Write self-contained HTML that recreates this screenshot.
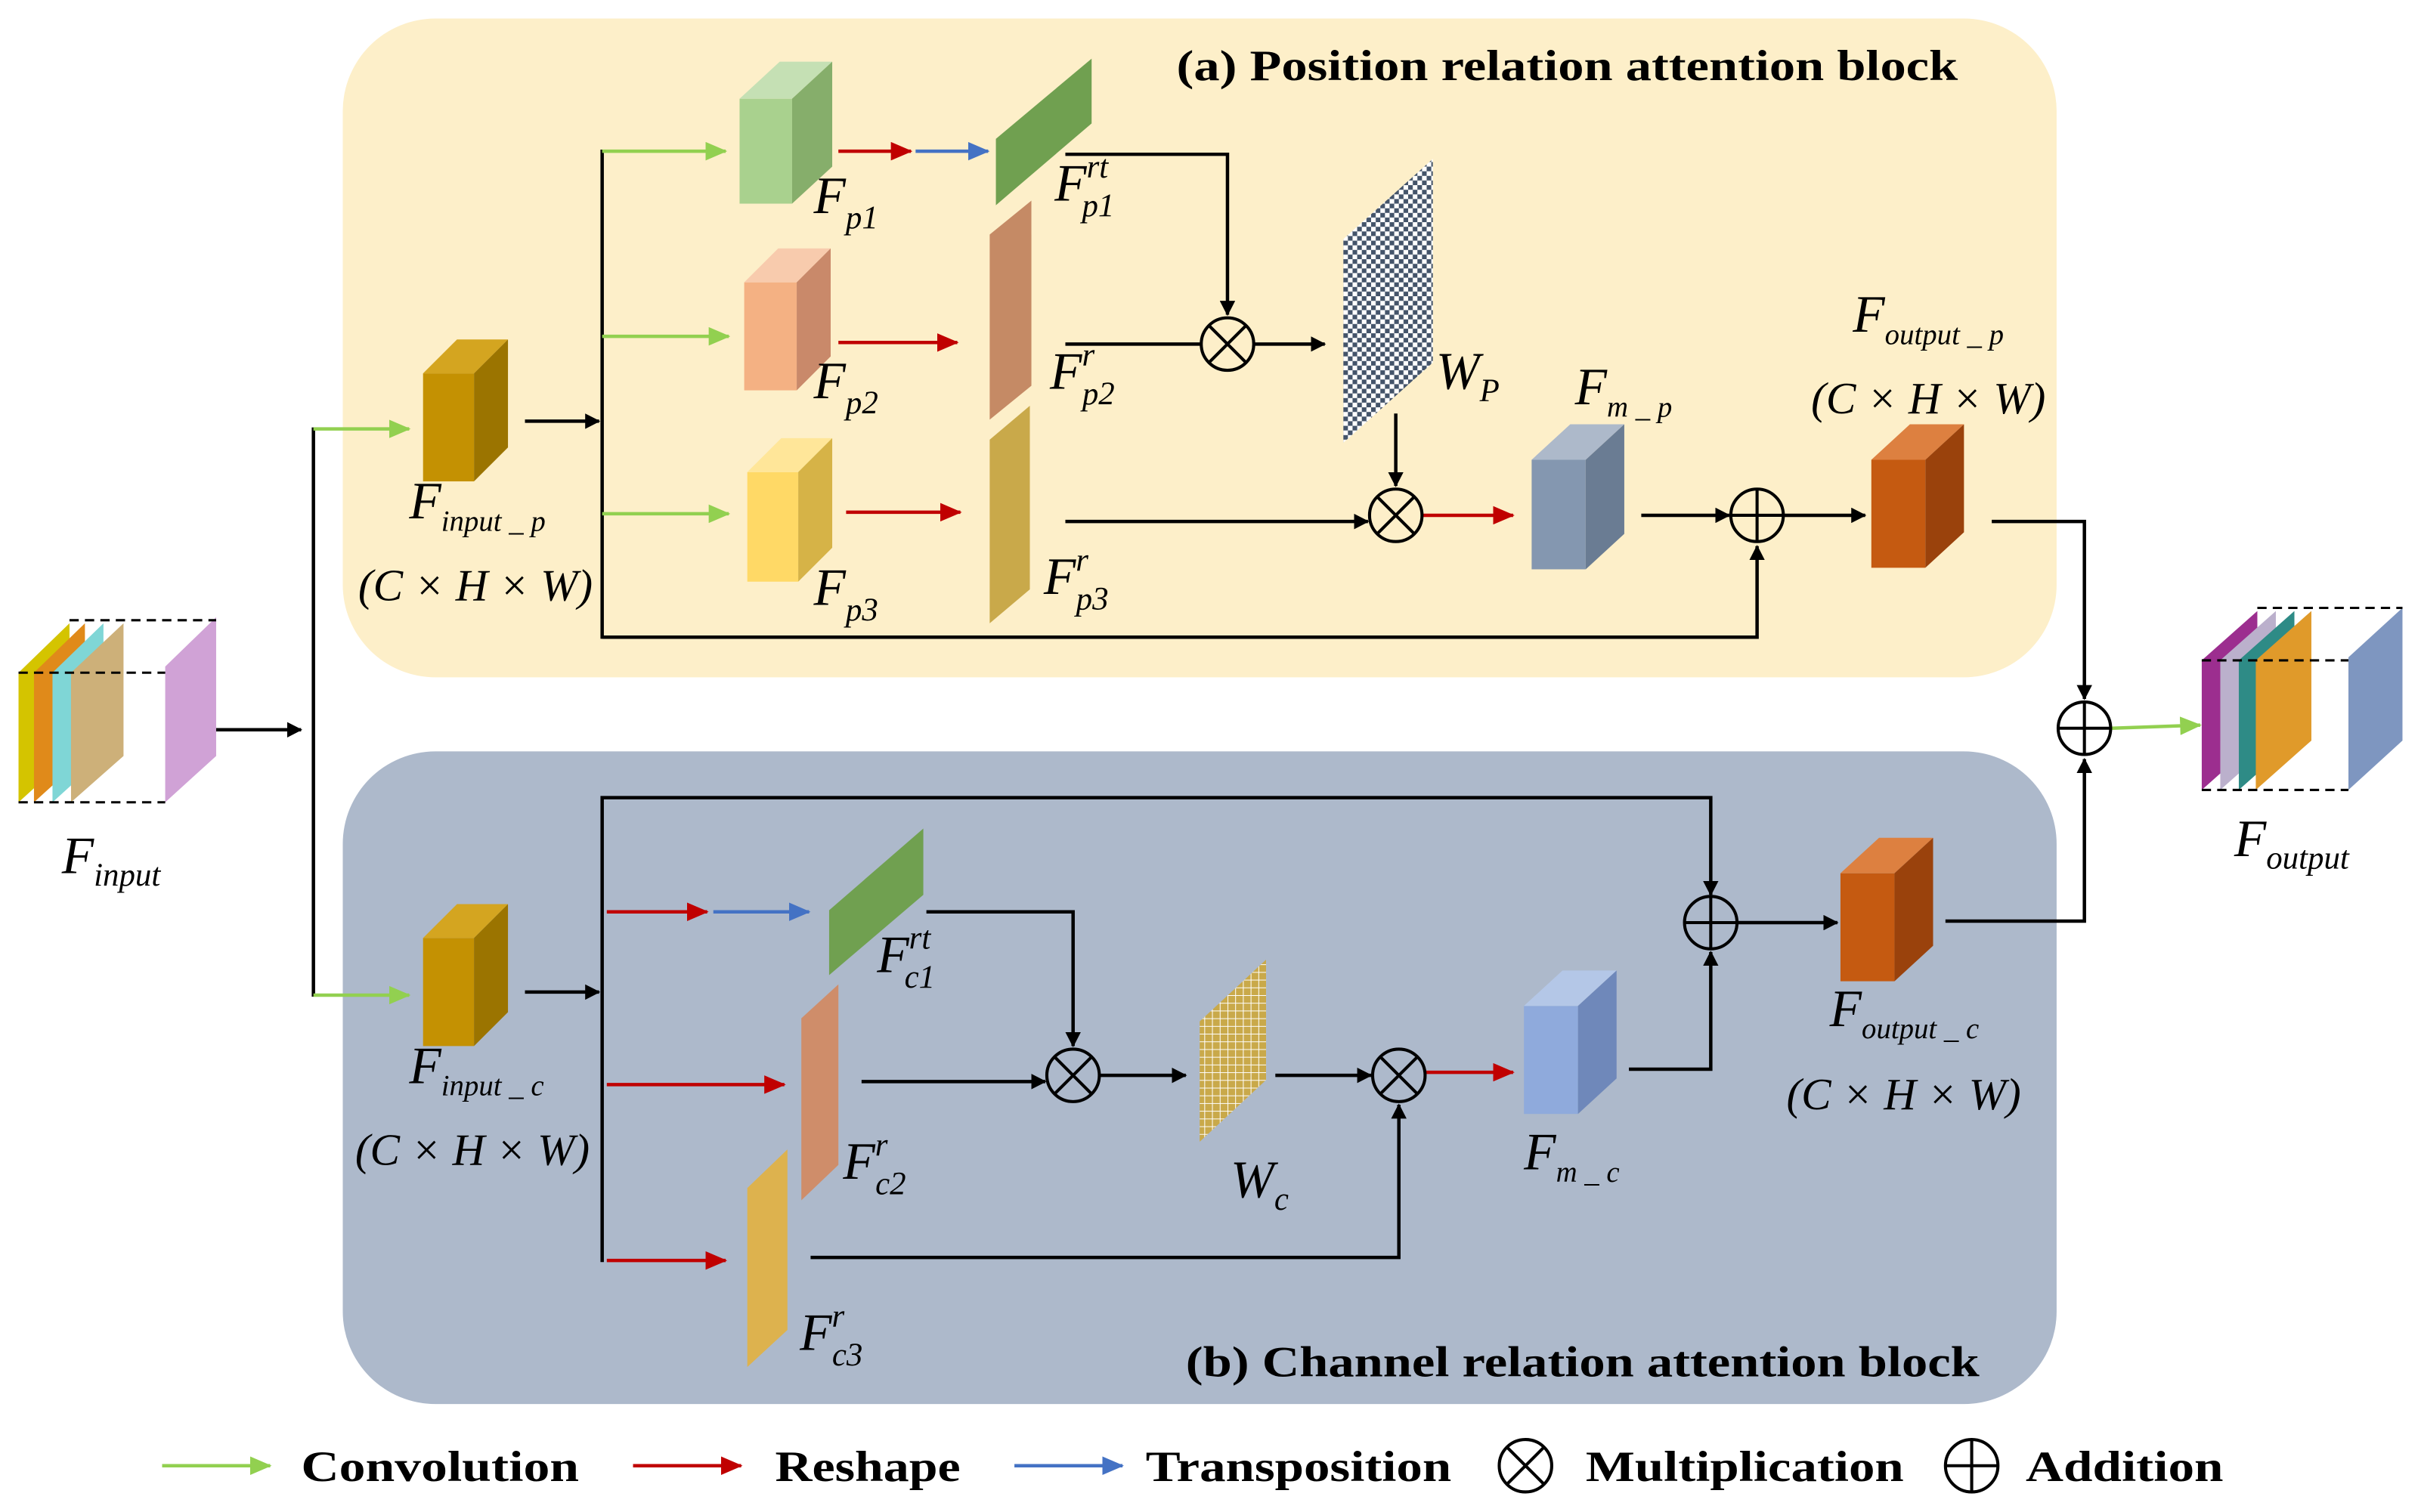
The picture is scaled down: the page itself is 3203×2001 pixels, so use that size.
<!DOCTYPE html>
<html><head><meta charset="utf-8"><style>
html,body{margin:0;padding:0;background:#fff;}
svg{display:block;}
.t{font-family:"Liberation Serif",serif;font-style:italic;fill:#000;}
.b{font-family:"Liberation Serif",serif;font-weight:bold;fill:#000;}
</style></head><body>
<svg width="3203" height="2001" viewBox="0 0 1568 980" preserveAspectRatio="none" xmlns="http://www.w3.org/2000/svg">
<defs>
<marker id="ak" markerWidth="10" markerHeight="10" refX="9" refY="5" orient="auto" markerUnits="userSpaceOnUse"><path d="M0,0 L14,5 L0,10 Z" fill="#000" transform="scale(0.7,1)"/></marker>
<marker id="ag" markerWidth="14" markerHeight="12" refX="13" refY="6" orient="auto" markerUnits="userSpaceOnUse"><path d="M0,0 L14,6 L0,12 Z" fill="#92D050"/></marker>
<marker id="ar" markerWidth="14" markerHeight="12" refX="13" refY="6" orient="auto" markerUnits="userSpaceOnUse"><path d="M0,0 L14,6 L0,12 Z" fill="#C00000"/></marker>
<marker id="ab" markerWidth="14" markerHeight="12" refX="13" refY="6" orient="auto" markerUnits="userSpaceOnUse"><path d="M0,0 L14,6 L0,12 Z" fill="#4472C4"/></marker>
<pattern id="chk" width="6" height="6" patternUnits="userSpaceOnUse"><rect width="6" height="6" fill="#fff"/><rect width="3" height="3" fill="#44546A"/><rect x="3" y="3" width="3" height="3" fill="#44546A"/></pattern>
<pattern id="grid" width="5" height="5" patternUnits="userSpaceOnUse"><rect width="5" height="5" fill="#C9A94A"/><path d="M0,0 H5 M0,0 V5" stroke="#fff" stroke-width="1"/></pattern>
</defs>

<rect x="222" y="12" width="1110" height="427" rx="60" fill="#FDEFC9"/>
<rect x="222" y="487" width="1110" height="423" rx="60" fill="#ADB9CB"/>
<text class="b" x="762" y="52" font-size="28" textLength="506" lengthAdjust="spacingAndGlyphs">(a) Position relation attention block</text>
<text class="b" x="768" y="892" font-size="28" textLength="514" lengthAdjust="spacingAndGlyphs">(b) Channel relation attention block</text>

<g stroke="none">
<polygon points="12,436 45,404 45,490 12,520" fill="#D4C400"/>
<polygon points="22,436 55,404 55,490 22,520" fill="#E08A1A"/>
<polygon points="34,436 67,404 67,490 34,520" fill="#7FD6D6"/>
<polygon points="46,436 80,404 80,490 46,520" fill="#CDB079"/>
<polygon points="107,432 140,400 140,490 107,520" fill="#D0A2D6"/>
</g>
<g stroke="#000" stroke-width="1.5" stroke-dasharray="6,4" fill="none">
<line x1="45" y1="402" x2="140" y2="402"/><line x1="12" y1="436" x2="107" y2="436"/><line x1="12" y1="520" x2="107" y2="520"/>
</g>
<g>
<polygon points="1426,428 1462,396 1462,480 1426,512" fill="#9C2E8F"/>
<polygon points="1438,428 1474,396 1474,480 1438,512" fill="#BBB0CC"/>
<polygon points="1450,428 1486,396 1486,480 1450,512" fill="#2E8B86"/>
<polygon points="1461,428 1497,396 1497,480 1461,512" fill="#E09A2A"/>
<polygon points="1521,426 1556,394 1556,480 1521,512" fill="#7E96C0"/>
</g>
<g stroke="#000" stroke-width="1.5" stroke-dasharray="6,4" fill="none">
<line x1="1462" y1="394" x2="1556" y2="394"/><line x1="1426" y1="428" x2="1521" y2="428"/><line x1="1426" y1="512" x2="1521" y2="512"/>
</g>

<g>
<rect x="274" y="242" width="33" height="70" fill="#C49102"/><polygon points="274,242 296,220 329,220 307,242" fill="#D4A520"/><polygon points="307,242 329,220 329,290 307,312" fill="#9B7400"/>
<rect x="274" y="608" width="33" height="70" fill="#C49102"/><polygon points="274,608 296,586 329,586 307,608" fill="#D4A520"/><polygon points="307,608 329,586 329,656 307,678" fill="#9B7400"/>
<rect x="479" y="64" width="34" height="68" fill="#A9D18E"/><polygon points="479,64 505,40 539,40 513,64" fill="#C5E0B4"/><polygon points="513,64 539,40 539,108 513,132" fill="#86AE6B"/>
<rect x="482" y="183" width="34" height="70" fill="#F4B183"/><polygon points="482,183 504,161 538,161 516,183" fill="#F8CBAD"/><polygon points="516,183 538,161 538,231 516,253" fill="#C9896A"/>
<rect x="484" y="306" width="33" height="71" fill="#FFD966"/><polygon points="484,306 506,284 539,284 517,306" fill="#FFE699"/><polygon points="517,306 539,284 539,355 517,377" fill="#D6B347"/>
<rect x="992" y="298" width="35" height="71" fill="#8497B0"/><polygon points="992,298 1017,275 1052,275 1027,298" fill="#ADB9CA"/><polygon points="1027,298 1052,275 1052,346 1027,369" fill="#6A7C93"/>
<rect x="1212" y="298" width="35" height="70" fill="#C55A11"/><polygon points="1212,298 1237,275 1272,275 1247,298" fill="#DD8040"/><polygon points="1247,298 1272,275 1272,345 1247,368" fill="#9A420C"/>
<rect x="987" y="652" width="35" height="70" fill="#8FAADC"/><polygon points="987,652 1012,629 1047,629 1022,652" fill="#B4C7E7"/><polygon points="1022,652 1047,629 1047,699 1022,722" fill="#6F88BA"/>
<rect x="1192" y="566" width="35" height="70" fill="#C55A11"/><polygon points="1192,566 1217,543 1252,543 1227,566" fill="#DD8040"/><polygon points="1227,566 1252,543 1252,613 1227,636" fill="#9A420C"/>
</g>

<polygon points="645,90 707,38 707,80 645,133" fill="#70A050"/>
<polygon points="641,152 668,130 668,250 641,272" fill="#C58A65"/>
<polygon points="641,285 667,263 667,382 641,404" fill="#C9A94A"/>
<polygon points="870,155 928,103 928,235 870,287" fill="url(#chk)"/>
<polygon points="537,590 598,537 598,580 537,632" fill="#70A050"/>
<polygon points="519,660 543,638 543,755 519,778" fill="#CF8D6A"/>
<polygon points="484,770 510,745 510,862 484,886" fill="#DDB24E"/>
<polygon points="777,662 820,622 820,700 777,740" fill="url(#grid)"/>

<g stroke="#000" stroke-width="2.2" fill="none">
<line x1="140" y1="473" x2="195" y2="473" marker-end="url(#ak)"/>
<line x1="203" y1="277" x2="203" y2="646"/>
<line x1="340" y1="273" x2="388" y2="273" marker-end="url(#ak)"/>
<line x1="390" y1="97" x2="390" y2="414"/>
<polyline points="390,413 1138,413 1138,354" marker-end="url(#ak)"/>
<polyline points="690,100 795,100 795,204" marker-end="url(#ak)"/>
<line x1="690" y1="223" x2="778" y2="223"/>
<line x1="812" y1="223" x2="858" y2="223" marker-end="url(#ak)"/>
<line x1="904" y1="268" x2="904" y2="315" marker-end="url(#ak)"/>
<line x1="690" y1="338" x2="886" y2="338" marker-end="url(#ak)"/>
<line x1="1063" y1="334" x2="1120" y2="334" marker-end="url(#ak)"/>
<line x1="1155" y1="334" x2="1208" y2="334" marker-end="url(#ak)"/>
<polyline points="1290,338 1350,338 1350,453" marker-end="url(#ak)"/>
<polyline points="390,818 390,517 1108,517 1108,580" marker-end="url(#ak)"/>
<line x1="340" y1="643" x2="388" y2="643" marker-end="url(#ak)"/>
<polyline points="600,591 695,591 695,678" marker-end="url(#ak)"/>
<line x1="558" y1="701" x2="677" y2="701" marker-end="url(#ak)"/>
<line x1="712" y1="697" x2="768" y2="697" marker-end="url(#ak)"/>
<line x1="826" y1="697" x2="888" y2="697" marker-end="url(#ak)"/>
<polyline points="525,815 906,815 906,716" marker-end="url(#ak)"/>
<polyline points="1055,693 1108,693 1108,617" marker-end="url(#ak)"/>
<line x1="1125" y1="598" x2="1190" y2="598" marker-end="url(#ak)"/>
<polyline points="1260,597 1350,597 1350,492" marker-end="url(#ak)"/>
</g>
<g stroke="#92D050" stroke-width="2.2" fill="none">
<line x1="203" y1="278" x2="265" y2="278" marker-end="url(#ag)"/>
<line x1="203" y1="645" x2="265" y2="645" marker-end="url(#ag)"/>
<line x1="390" y1="98" x2="470" y2="98" marker-end="url(#ag)"/>
<line x1="390" y1="218" x2="472" y2="218" marker-end="url(#ag)"/>
<line x1="390" y1="333" x2="472" y2="333" marker-end="url(#ag)"/>
<line x1="1367" y1="472" x2="1425" y2="470" marker-end="url(#ag)"/>
<line x1="105" y1="950" x2="175" y2="950" marker-end="url(#ag)"/>
</g>
<g stroke="#C00000" stroke-width="2.2" fill="none">
<line x1="543" y1="98" x2="590" y2="98" marker-end="url(#ar)"/>
<line x1="543" y1="222" x2="620" y2="222" marker-end="url(#ar)"/>
<line x1="548" y1="332" x2="622" y2="332" marker-end="url(#ar)"/>
<line x1="921" y1="334" x2="980" y2="334" marker-end="url(#ar)"/>
<line x1="393" y1="591" x2="458" y2="591" marker-end="url(#ar)"/>
<line x1="393" y1="703" x2="508" y2="703" marker-end="url(#ar)"/>
<line x1="393" y1="817" x2="470" y2="817" marker-end="url(#ar)"/>
<line x1="923" y1="695" x2="980" y2="695" marker-end="url(#ar)"/>
<line x1="410" y1="950" x2="480" y2="950" marker-end="url(#ar)"/>
</g>
<g stroke="#4472C4" stroke-width="2.2" fill="none">
<line x1="593" y1="98" x2="640" y2="98" marker-end="url(#ab)"/>
<line x1="462" y1="591" x2="524" y2="591" marker-end="url(#ab)"/>
<line x1="657" y1="950" x2="727" y2="950" marker-end="url(#ab)"/>
</g>

<g stroke="#000" stroke-width="2" fill="none">
<g transform="translate(795,223)"><circle r="17"/><path d="M-12,-12 L12,12 M-12,12 L12,-12"/></g>
<g transform="translate(904,334)"><circle r="17"/><path d="M-12,-12 L12,12 M-12,12 L12,-12"/></g>
<g transform="translate(695,697)"><circle r="17"/><path d="M-12,-12 L12,12 M-12,12 L12,-12"/></g>
<g transform="translate(906,697)"><circle r="17"/><path d="M-12,-12 L12,12 M-12,12 L12,-12"/></g>
<g transform="translate(988,950)"><circle r="17"/><path d="M-12,-12 L12,12 M-12,12 L12,-12"/></g>
<g transform="translate(1138,334)"><circle r="17"/><path d="M-17,0 H17 M0,-17 V17"/></g>
<g transform="translate(1350,472)"><circle r="17"/><path d="M-17,0 H17 M0,-17 V17"/></g>
<g transform="translate(1108,598)"><circle r="17"/><path d="M-17,0 H17 M0,-17 V17"/></g>
<g transform="translate(1277,950)"><circle r="17"/><path d="M-17,0 H17 M0,-17 V17"/></g>
</g>

<text class="b" x="195" y="960" font-size="28" textLength="180" lengthAdjust="spacingAndGlyphs">Convolution</text>
<text class="b" x="502" y="960" font-size="28" textLength="120" lengthAdjust="spacingAndGlyphs">Reshape</text>
<text class="b" x="742" y="960" font-size="28" textLength="198" lengthAdjust="spacingAndGlyphs">Transposition</text>
<text class="b" x="1027" y="960" font-size="28" textLength="206" lengthAdjust="spacingAndGlyphs">Multiplication</text>
<text class="b" x="1312" y="960" font-size="28" textLength="128" lengthAdjust="spacingAndGlyphs">Addition</text>

<g class="t" font-size="34">
<text x="40" y="566">F<tspan font-size="21" dy="8">input</tspan></text>
<text x="1447" y="555">F<tspan font-size="21" dy="8">output</tspan></text>
<text x="265" y="336">F<tspan font-size="19" dy="8">input _ p</tspan></text>
<text x="265" y="702">F<tspan font-size="19" dy="8">input _ c</tspan></text>
<text x="527" y="138">F<tspan font-size="21" dy="10">p1</tspan></text>
<text x="527" y="258">F<tspan font-size="21" dy="10">p2</tspan></text>
<text x="527" y="392">F<tspan font-size="21" dy="10">p3</tspan></text>
<text x="683" y="130">F<tspan font-size="21" dy="-15">rt</tspan><tspan font-size="21" dx="-17" dy="25">p1</tspan></text>
<text x="680" y="252">F<tspan font-size="21" dy="-15">r</tspan><tspan font-size="21" dx="-8" dy="25">p2</tspan></text>
<text x="676" y="385">F<tspan font-size="21" dy="-15">r</tspan><tspan font-size="21" dx="-8" dy="25">p3</tspan></text>
<text x="930" y="252">W<tspan font-size="21" dy="8">P</tspan></text>
<text x="1020" y="262">F<tspan font-size="19" dy="8">m _ p</tspan></text>
<text x="1200" y="215">F<tspan font-size="19" dy="8">output _ p</tspan></text>
<text x="568" y="630">F<tspan font-size="21" dy="-15">rt</tspan><tspan font-size="21" dx="-17" dy="25">c1</tspan></text>
<text x="546" y="764">F<tspan font-size="21" dy="-15">r</tspan><tspan font-size="21" dx="-8" dy="25">c2</tspan></text>
<text x="518" y="875">F<tspan font-size="21" dy="-15">r</tspan><tspan font-size="21" dx="-8" dy="25">c3</tspan></text>
<text x="797" y="776">W<tspan font-size="21" dy="8">c</tspan></text>
<text x="987" y="758">F<tspan font-size="19" dy="8">m _ c</tspan></text>
<text x="1185" y="665">F<tspan font-size="19" dy="8">output _ c</tspan></text>
</g>
<g class="t" font-size="29">
<text x="232" y="389">(C × H × W)</text>
<text x="230" y="755">(C × H × W)</text>
<text x="1173" y="268">(C × H × W)</text>
<text x="1157" y="719">(C × H × W)</text>
</g>
</svg>
</body></html>
